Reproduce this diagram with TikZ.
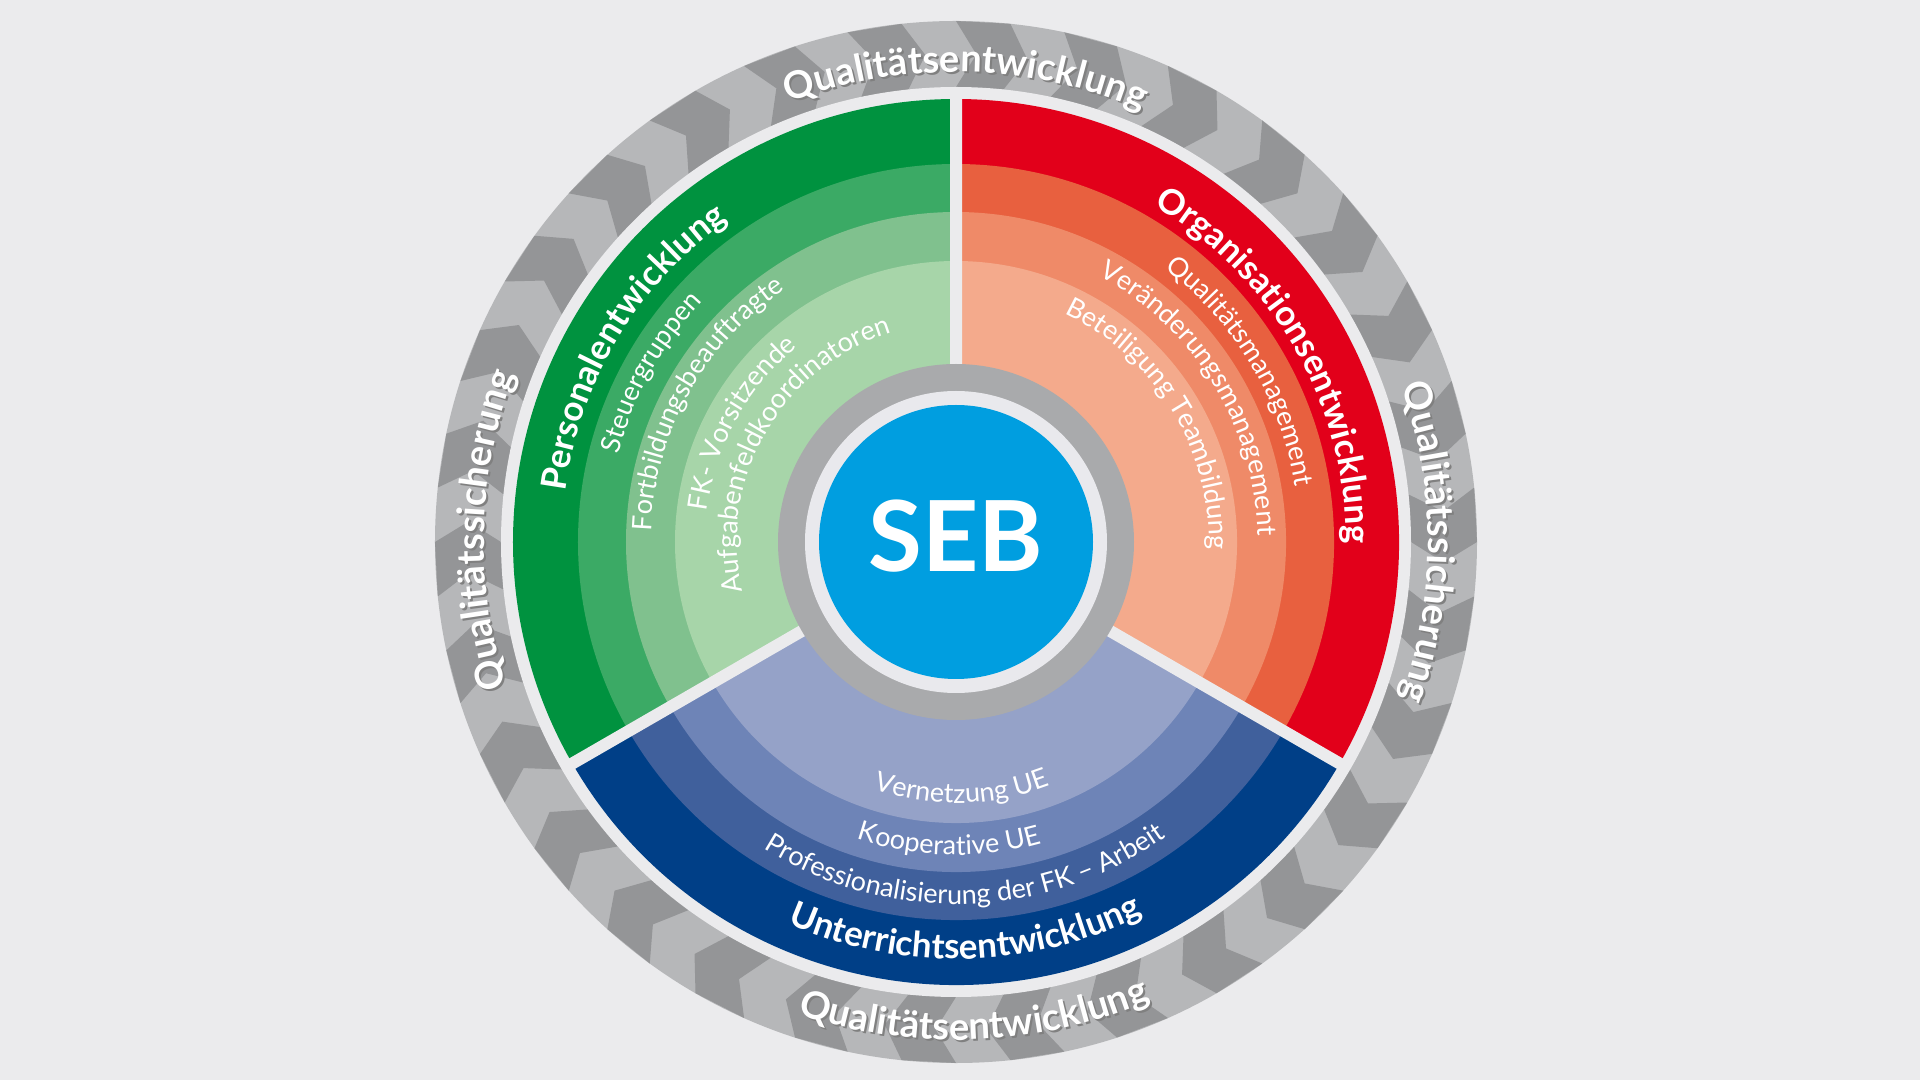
\documentclass[tikz,border=0pt]{standalone}
\usepackage{fontspec}
\setmainfont{Lato}
\usetikzlibrary{decorations.text}
\definecolor{bg}{HTML}{EBEBED}
\definecolor{ringA}{HTML}{B6B7B9}
\definecolor{ringB}{HTML}{949597}
\definecolor{grA}{HTML}{00923F}
\definecolor{grB}{HTML}{3BAA65}
\definecolor{grC}{HTML}{80C18E}
\definecolor{grD}{HTML}{A7D5A9}
\definecolor{rdA}{HTML}{E2001A}
\definecolor{rdB}{HTML}{E8603F}
\definecolor{rdC}{HTML}{EF8A68}
\definecolor{rdD}{HTML}{F4AA8C}
\definecolor{blA}{HTML}{003F87}
\definecolor{blB}{HTML}{40609C}
\definecolor{blC}{HTML}{6E84B7}
\definecolor{blD}{HTML}{95A2C8}
\definecolor{hubgray}{HTML}{A9AAAC}
\definecolor{hubgap}{HTML}{E9E9ED}
\definecolor{sebblue}{HTML}{009EE0}
\newcommand{\ringfont}{\fontsize{19}{19}\selectfont\bfseries}
\newcommand{\titlefont}{\fontsize{17.5}{17.5}\selectfont\bfseries}
\newcommand{\itemfont}{\fontsize{13.5}{13.5}\selectfont}

\begin{document}
\begin{tikzpicture}[x=0.5pt,y=0.5pt,
  arctxt/.style={decorate,decoration={text along path,text align=center,text color=white,text={#1}}},
  arcshadow/.style={decorate,decoration={text along path,text align=center,text color=black!50,text={#1}}}]
\useasboundingbox (-956,-538) rectangle (964,542);
\fill[bg] (-956,-538) rectangle (964,542);
\fill[ringA] (0,0) circle[radius=521];
\foreach \a in {0,12,...,348}
  \fill[ringB] ({\a+6}:521) -- (\a:521) -- ({\a-2.4}:488) -- (\a:455) -- ({\a+6}:455) -- ({\a+3.6}:488) -- cycle;
\fill[bg] (0,0) circle[radius=455];
\foreach \r/\c in {443/grA,378/grB,330/grC,281/grD}
  \fill[\c] (0,0) -- (90:\r) arc[start angle=90,end angle=210,radius=\r] -- cycle;
\foreach \r/\c in {443/rdA,378/rdB,330/rdC,281/rdD}
  \fill[\c] (0,0) -- (-30:\r) arc[start angle=-30,end angle=90,radius=\r] -- cycle;
\foreach \r/\c in {443/blA,378/blB,330/blC,281/blD}
  \fill[\c] (0,0) -- (210:\r) arc[start angle=210,end angle=330,radius=\r] -- cycle;
\draw[bg,line width=6pt] (90:450) -- (0,0) -- (210:450);
\draw[bg,line width=6pt] (0,0) -- (330:450);
\fill[hubgray] (0,0) circle[radius=178];
\fill[hubgap] (0,0) circle[radius=151];
\fill[sebblue] (0,0) circle[radius=137];
\node[text=white,font=\fontsize{49}{49}\selectfont\bfseries] (seb) at (0,5.5) {SEB};
\path[shift={(2,-2)},arcshadow={|\ringfont|Qualitätsentwicklung}] (138.8:470) arc[start angle=138.8,end angle=38.8,radius=470];
\path[arctxt={|\ringfont|Qualitätsentwicklung}] (138.8:470) arc[start angle=138.8,end angle=38.8,radius=470];
\path[shift={(2,-2)},arcshadow={|\ringfont|Qualitätsentwicklung}] (222.2:498) arc[start angle=222.2,end angle=322.2,radius=498];
\path[arctxt={|\ringfont|Qualitätsentwicklung}] (222.2:498) arc[start angle=222.2,end angle=322.2,radius=498];
\path[shift={(2,-2)},arcshadow={|\ringfont|Qualitätssicherung}] (228.5:472) arc[start angle=228.5,end angle=128.5,radius=472];
\path[arctxt={|\ringfont|Qualitätssicherung}] (228.5:472) arc[start angle=228.5,end angle=128.5,radius=472];
\path[shift={(2,-2)},arcshadow={|\ringfont|Qualitätssicherung}] (50:472) arc[start angle=50,end angle=-50,radius=472];
\path[arctxt={|\ringfont|Qualitätssicherung}] (50:472) arc[start angle=50,end angle=-50,radius=472];
\path[arctxt={|\titlefont|Personalentwicklung}] (209:394) arc[start angle=209,end angle=89,radius=394];
\path[arctxt={|\titlefont|Organisationsentwicklung}] (89.7:390) arc[start angle=89.7,end angle=-30.3,radius=390];
\path[arctxt={|\titlefont|Unterrichtsentwicklung}] (211.4:417) arc[start angle=211.4,end angle=331.4,radius=417];
\path[arctxt={|\itemfont|Steuergruppen}] (211:349) arc[start angle=211,end angle=91,radius=349];
\path[arctxt={|\itemfont|Fortbildungsbeauftragte}] (211:305) arc[start angle=211,end angle=91,radius=305];
\path[arctxt={|\itemfont|FK- Vorsitzende}] (231:251) arc[start angle=231,end angle=71,radius=251];
\path[arctxt={|\itemfont|Aufgabenfeldkoordinatoren}] (230:219) arc[start angle=230,end angle=70,radius=219];
\path[arctxt={|\itemfont|Qualitätsmanagement}] (91:344) arc[start angle=91,end angle=-29,radius=344];
\path[arctxt={|\itemfont|Veränderungsmanagement}] (101.5:302) arc[start angle=101.5,end angle=-38.5,radius=302];
\path[arctxt={|\itemfont|Beteiligung Teambildung}] (111.5:253) arc[start angle=111.5,end angle=-48.5,radius=253];
\path[arctxt={|\itemfont|Vernetzung UE}] (201.3:261) arc[start angle=201.3,end angle=341.3,radius=261];
\path[arctxt={|\itemfont|Kooperative UE}] (198.7:313) arc[start angle=198.7,end angle=338.7,radius=313];
\path[arctxt={|\itemfont|Professionalisierung der FK – Arbeit}] (201.7:362) arc[start angle=201.7,end angle=341.7,radius=362];
\end{tikzpicture}
\end{document}
